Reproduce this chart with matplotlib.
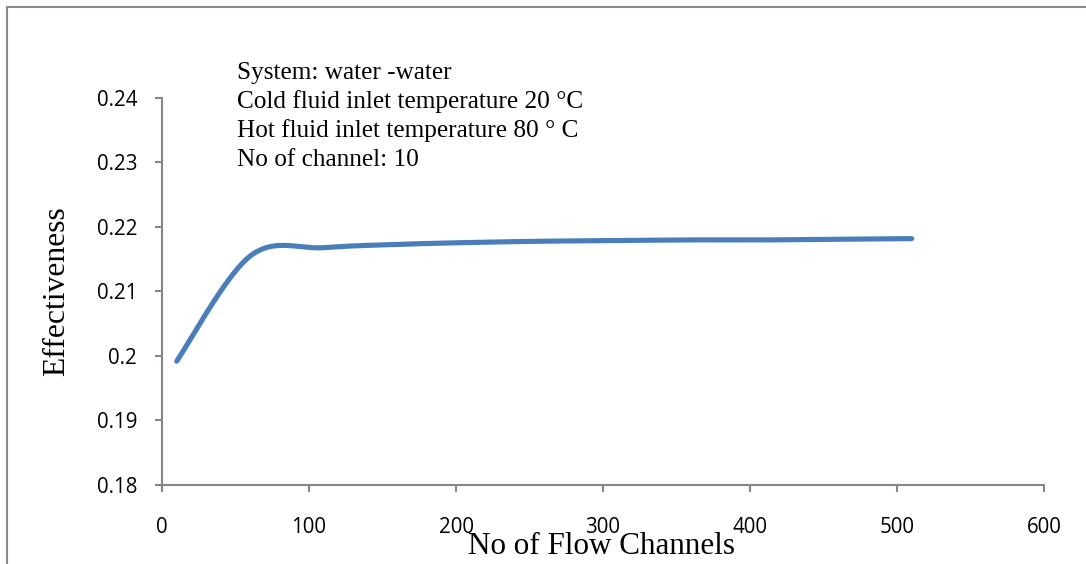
import numpy as np
import matplotlib
matplotlib.use("Agg")
import matplotlib.pyplot as plt
from matplotlib.patches import Rectangle
from matplotlib.ticker import FuncFormatter

# Data
channels = [10, 60, 110, 160, 210, 260, 310, 360, 410, 460, 510]
effectiveness = [0.1992, 0.2155, 0.2168, 0.2173, 0.2176, 0.2178, 0.2179, 0.2180, 0.2180, 0.2181, 0.2182]
x_ticks = [0, 100, 200, 300, 400, 500, 600]
y_ticks = [0.18, 0.19, 0.20, 0.21, 0.22, 0.23, 0.24]
notes = ["System: water -water",
         "Cold fluid inlet temperature 20 \u00b0C",
         "Hot fluid inlet temperature 80 \u00b0 C",
         "No of channel: 10"]


def excel_smooth(xs, ys, n=40):
    xs = np.asarray(xs, float)
    ys = np.asarray(ys, float)
    P = np.column_stack([xs, ys])
    out = []
    m = len(P)
    for i in range(m - 1):
        p0 = P[i - 1] if i > 0 else P[i]
        p1 = P[i]
        p2 = P[i + 1]
        p3 = P[i + 2] if i + 2 < m else P[i + 1]
        c1 = p1 + (p2 - p0) / 6.0
        c2 = p2 - (p3 - p1) / 6.0
        t = np.linspace(0, 1, n)[:, None]
        seg = ((1 - t) ** 3) * p1 + 3 * ((1 - t) ** 2) * t * c1 + 3 * (1 - t) * t ** 2 * c2 + t ** 3 * p2
        if i > 0:
            seg = seg[1:]
        out.append(seg)
    out = np.vstack(out)
    return out[:, 0], out[:, 1]


fig = plt.figure(figsize=(10.86, 5.64), dpi=100)
ax = fig.add_axes([162 / 1086, 1 - 485 / 564, (1044 - 162) / 1086, (485 - 98) / 564])

sx, sy = excel_smooth(channels, effectiveness)
ax.plot(sx, sy, color="#4A7EBB", lw=3.7, solid_capstyle="round")

ax.set_xlim(0, 600)
ax.set_ylim(0.18, 0.24)
ax.set_xticks(x_ticks)
ax.set_yticks(y_ticks)
ax.yaxis.set_major_formatter(FuncFormatter(lambda v, p: "%g" % round(v, 4)))

grey = "#868686"
for s in ["top", "right"]:
    ax.spines[s].set_visible(False)
for s in ["left", "bottom"]:
    ax.spines[s].set_color(grey)
    ax.spines[s].set_linewidth(1.5)
ax.tick_params(axis="both", direction="out", length=5, width=1.5, color=grey,
               labelsize=14.8, labelcolor="black")
ax.tick_params(axis="x", pad=18)
ax.tick_params(axis="y", pad=13)
for lab in ax.get_xticklabels() + ax.get_yticklabels():
    lab.set_fontfamily("Open Sans")

fig.text(57 / 1086, 1 - 291 / 564, "Effectiveness", rotation=90, ha="center", va="center",
         fontsize=22.8, family="Liberation Serif")
fig.text(602 / 1086, 1 - 546 / 564, "No of Flow Channels", ha="center", va="center",
         fontsize=22.4, family="Liberation Serif")

for i, line in enumerate(notes):
    fig.text(237 / 1086, 1 - (73 + 29 * i) / 564, line, ha="left", va="center",
             fontsize=18.2, family="Liberation Serif")

fig.patches.append(Rectangle((7 / 1086, -0.1), 1.2, 1 - 7 / 564 + 0.1, transform=fig.transFigure,
                             fill=False, edgecolor="#898989", lw=1.5))

fig.savefig("out.png", dpi=100)
